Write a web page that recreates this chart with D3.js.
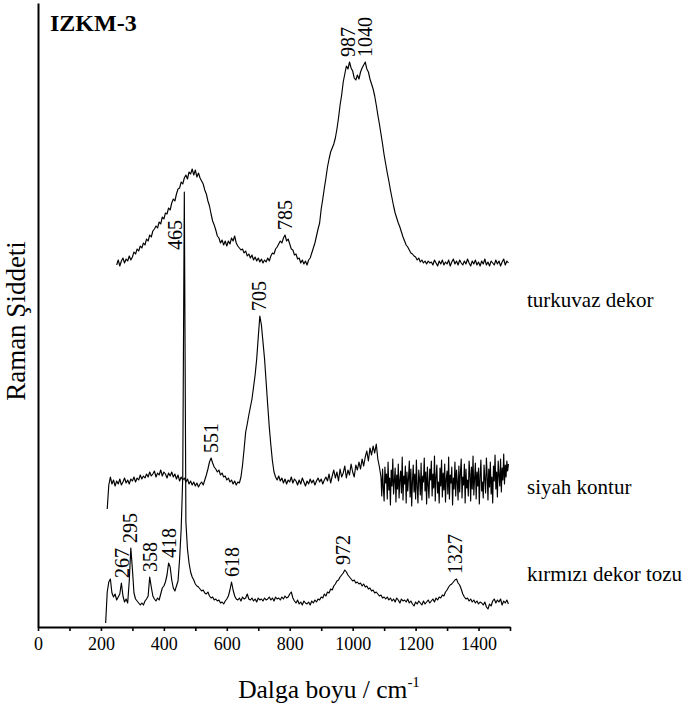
<!DOCTYPE html>
<html>
<head>
<meta charset="utf-8">
<script src="https://cdn.jsdelivr.net/npm/d3@7"></script>
<style>
  body { margin: 0; background: #fff; }
  svg { display: block; }
  text { font-family: "Liberation Serif", "Times New Roman", serif; fill: #000; }
</style>
</head>
<body>
<svg id="chart" width="689" height="711"></svg>
<script>
// Raman spectra of sample IZKM-3, stacked with vertical offsets (arbitrary units)
const serif = '"Liberation Serif", "Times New Roman", serif';
const sampleTitle = "IZKM-3";
const xTitle = "Dalga boyu / cm";
const xTitleSup = "-1";
const yTitle = "Raman Şiddeti";
const xTickValues = [0, 100, 200, 300, 400, 500, 600, 700, 800, 900, 1000, 1100, 1200, 1300, 1400, 1500];
const xTickLabels = [0, 200, 400, 600, 800, 1000, 1200, 1400];

// turkuvaz dekor: 250 .. 1495 cm-1, every 5 cm-1
const turkuvazStart = 250, turkuvazStep = 5;
const turkuvaz = [
  362,367,361,366,369,364,368,366,371,367,
  370,375,373,378,376,381,379,384,382,388,
  386,392,390,396,398,401,399,405,403,410,
  408,414,413,419,417,424,428,426,433,438,
  439,445,443,449,452,448,455,453,458,452,
  457,450,454,449,446,443,437,433,426,421,
  413,406,402,397,391,389,384,387,382,386,
  381,386,383,389,386,391,384,381,379,377,
  378,374,376,371,373,369,372,367,370,366,
  369,365,368,364,367,365,369,366,371,374,
  373,378,380,383,386,384,389,392,386,388,
  383,378,377,372,373,368,369,364,367,363,
  366,362,367,369,374,379,384,391,398,404,
  418,428,439,449,460,468,475,479,483,489,
  498,509,522,532,545,553,561,558,565,559,
  556,549,547,552,548,555,559,562,565,558,
  555,548,543,538,531,522,512,503,493,483,
  472,463,454,446,437,429,421,414,409,404,
  400,395,390,386,382,380,377,374,373,371,
  370,367,369,365,367,364,366,363,366,364,
  365,362,367,364,361,366,363,367,362,365,
  363,367,361,365,368,363,366,362,367,364,
  362,366,363,368,364,361,366,363,367,362,
  365,361,366,363,368,362,365,361,366,364,
  362,367,363,366,361,365,368,362,366,364
];

// siyah kontur: 220 .. 1085 cm-1 every 5 cm-1
const siyahStart = 220, siyahStep = 5;
const siyah = [
  118,142,150,143,147,141,146,143,148,142,
  145,149,144,147,143,148,146,150,145,149,
  147,152,148,151,149,153,150,155,151,153,
  156,150,154,152,157,151,155,153,149,154,
  151,155,150,153,148,152,146,150,147,149,
  145,148,143,146,142,145,141,144,140,143,
  145,142,147,152,158,165,169,164,160,158,
  155,157,152,154,150,151,147,149,145,147,
  143,146,142,145,144,150,162,178,195,203,
  212,220,228,240,252,268,290,311,302,285,
  268,245,222,200,182,166,155,150,147,151,
  146,149,144,148,143,147,145,150,144,148,
  146,142,147,143,149,145,141,146,143,148,
  144,147,142,146,149,145,148,143,147,150,
  146,153,144,151,157,149,155,146,158,150,
  154,161,149,157,152,163,155,150,162,157,
  165,158,168,161,170,176,166,179,172,181,
  174,183,168,160
];
// siyah kontur, noisy tail: 1090 .. 1495 cm-1 every 2.5 cm-1
const siyahTailStart = 1090, siyahTailStep = 2.5;
const siyahTail = [
  150,131,158,139,126,160,144,153,128,165,
  137,149,122,157,141,168,133,146,159,125,
  152,138,163,129,147,156,134,170,127,151,
  143,161,124,155,136,149,166,130,158,121,
  146,162,135,153,128,167,140,124,157,148,
  132,164,127,151,145,169,136,155,123,160,
  142,129,158,147,166,131,153,139,171,126,
  150,162,134,145,124,159,141,167,130,154,
  137,163,125,148,156,133,170,128,152,144,
  160,122,149,138,165,131,157,146,127,161,
  135,154,168,129,150,142,163,124,158,139,
  147,131,166,153,126,160,138,171,132,149,
  164,128,155,141,159,123,151,167,136,145,
  129,162,148,134,169,152,127,158,140,165,
  133,150,124,161,146,172,138,155,130,166,
  152,141,168,135,159,147,173,143,162,150,
  166,156,163
];

// kırmızı dekor tozu: 215 .. 1495 cm-1 every 5 cm-1
const kirmiziStart = 215, kirmiziStep = 5;
const kirmizi = [
  4,35,45,48,34,30,33,27,30,33,
  44,31,25,28,24,46,79,58,34,28,
  26,24,22,24,22,26,28,31,50,40,
  31,28,26,29,27,33,39,41,45,52,
  64,60,47,39,36,41,46,68,98,150,
  435,105,78,64,55,50,47,43,41,40,
  38,36,37,34,33,35,31,29,30,27,
  28,26,27,24,25,23,26,28,31,37,
  45,37,31,28,27,29,26,30,28,29,
  33,28,27,29,26,28,25,29,27,28,
  26,29,27,28,30,27,29,26,30,28,
  29,27,30,28,31,29,30,33,35,29,
  26,24,27,23,25,22,26,24,23,25,
  22,26,24,27,25,28,27,30,29,33,
  31,35,34,38,37,41,43,46,47,50,
  52,54,57,55,52,50,48,46,47,44,
  45,43,44,41,43,40,41,38,39,36,
  37,34,35,33,31,32,29,30,28,30,
  27,29,26,28,25,29,27,24,28,26,
  27,25,28,24,26,23,21,25,23,26,
  24,22,26,23,25,27,24,26,28,25,
  29,27,30,29,32,31,35,37,40,42,
  43,45,47,48,44,42,38,33,30,28,
  29,26,28,25,27,24,26,23,25,24,
  22,25,20,18,23,21,26,28,24,27,
  25,28,22,26,24,27,23
];

// Labelled band positions (cm-1) for each spectrum
const turkuvazPeaks = [785, 987, 1040];
const siyahPeaks = [551, 705];
const kirmiziPeaks = [267, 295, 358, 418, 465, 618, 972, 1327];

const seriesNames = ["turkuvaz dekor", "siyah kontur", "kırmızı dekor tozu"];

// turn (start, step, values) runs into [wavenumber, intensity] points
const toPoints = (start, step, values) => values.map((v, i) => [start + i * step, v]);

const spectra = [
  { name: seriesNames[0], peaks: turkuvazPeaks, nameY: 307,
    points: toPoints(turkuvazStart, turkuvazStep, turkuvaz) },
  { name: seriesNames[1], peaks: siyahPeaks, nameY: 494,
    points: toPoints(siyahStart, siyahStep, siyah).concat(toPoints(siyahTailStart, siyahTailStep, siyahTail)) },
  { name: seriesNames[2], peaks: kirmiziPeaks, nameY: 581,
    points: toPoints(kirmiziStart, kirmiziStep, kirmizi) }
];

const svg = d3.select("#chart");
const plotLeft = 38, plotRight = 510, plotTop = 3, plotBottom = 627;

const x = d3.scaleLinear().domain([0, 1500]).range([plotLeft, plotRight]);
const y = d3.scaleLinear().domain([0, 624]).range([plotBottom, plotTop]);

// axes
const xAxis = d3.axisBottom(x)
  .tickValues(xTickValues)
  .tickSize(4)
  .tickSizeOuter(0)
  .tickPadding(6)
  .tickFormat(d => xTickLabels.includes(d) ? String(d) : "");

const gx = svg.append("g")
  .attr("transform", `translate(0,${plotBottom})`)
  .call(xAxis);
gx.attr("font-family", null);
gx.select(".domain").attr("stroke", "#000").attr("stroke-width", 2);
gx.selectAll(".tick line").attr("stroke", "#000").attr("stroke-width", 1.6);
gx.selectAll(".tick text")
  .style("font-family", serif)
  .style("font-size", "18px")
  .attr("fill", "#000");

const yAxis = d3.axisLeft(y).tickValues([]).tickSizeOuter(0);
const gy = svg.append("g")
  .attr("transform", `translate(${plotLeft},0)`)
  .call(yAxis);
gy.select(".domain").attr("stroke", "#000").attr("stroke-width", 2);

// spectra
const line = d3.line()
  .x(d => x(d[0]))
  .y(d => y(d[1]));

spectra.forEach(s => {
  svg.append("path")
    .datum(s.points)
    .attr("fill", "none")
    .attr("stroke", "#000")
    .attr("stroke-width", 1.15)
    .attr("stroke-linejoin", "round")
    .attr("d", line);

  // series name to the right of the plot
  svg.append("text")
    .attr("x", 527)
    .attr("y", s.nameY)
    .style("font-family", serif)
    .style("font-size", "21px")
    .text(s.name);

  // vertical band labels just above each band maximum
  s.peaks.forEach(p => {
    const near = s.points.filter(d => Math.abs(d[0] - p) <= 10);
    const peakVal = d3.max(near, d => d[1]);
    let px = x(p);
    let base = y(peakVal) - 5;
    if (p === 465) {
      // the strong 465 band runs into the upper spectrum: label sits beside it
      px = x(p) - 8.5;
      base = y(377);
    }
    svg.append("text")
      .attr("transform", `translate(${px + 6.5},${base}) rotate(-90)`)
      .attr("text-anchor", "start")
      .style("font-family", serif)
      .style("font-size", "20px")
      .text(String(p));
  });
});

// titles
svg.append("text")
  .attr("x", 50)
  .attr("y", 31)
  .style("font-family", serif)
  .style("font-size", "24px")
  .style("font-weight", "bold")
  .text(sampleTitle);

const xt = svg.append("text")
  .attr("x", 329)
  .attr("y", 698)
  .attr("text-anchor", "middle")
  .style("font-family", serif)
  .style("font-size", "25.5px");
xt.append("tspan").text(xTitle);
xt.append("tspan").attr("dy", -11).style("font-size", "15px").text(xTitleSup);

svg.append("text")
  .attr("transform", `translate(25,321) rotate(-90)`)
  .attr("text-anchor", "middle")
  .style("font-family", serif)
  .style("font-size", "27px")
  .text(yTitle);
</script>
</body>
</html>
